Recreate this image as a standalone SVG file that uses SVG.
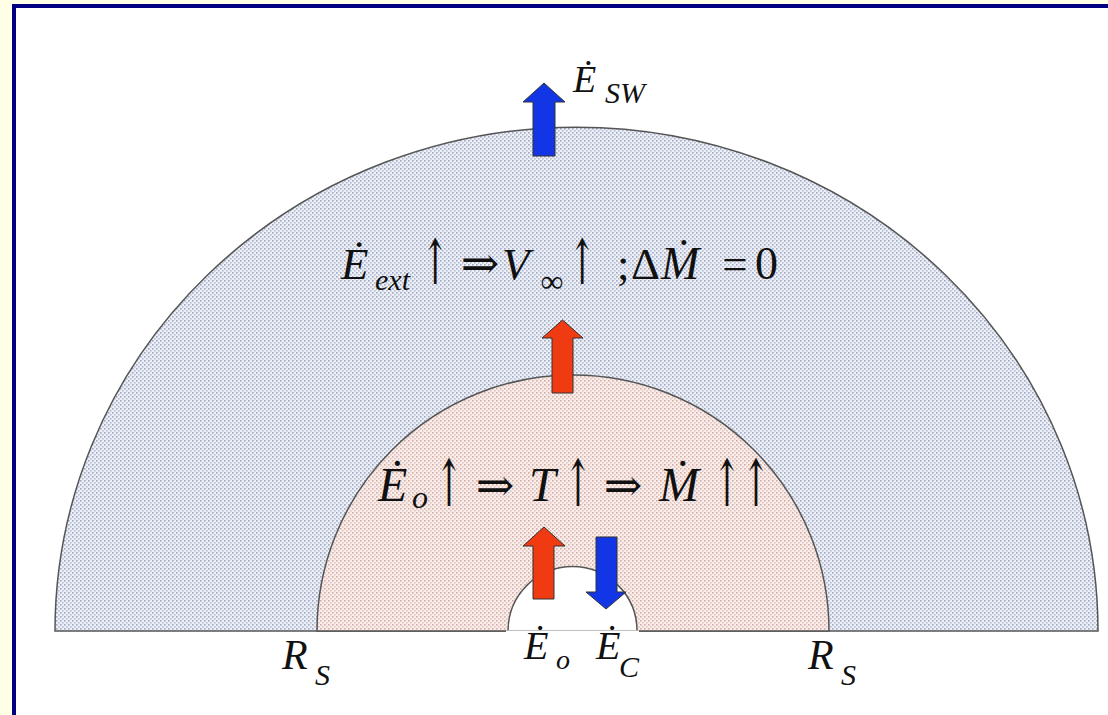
<svg xmlns="http://www.w3.org/2000/svg" width="1108" height="715" viewBox="0 0 1108 715">
  <defs>
    <pattern id="dotsBlue" width="4" height="4" patternUnits="userSpaceOnUse">
      <rect width="4" height="4" fill="#eef0f7"/>
      <rect x="0" y="0" width="1.6" height="1.6" fill="#9ea8c4"/>
      <rect x="2" y="2" width="1.6" height="1.6" fill="#b4bcd2"/>
    </pattern>
    <pattern id="dotsPink" width="4" height="4" patternUnits="userSpaceOnUse">
      <rect width="4" height="4" fill="#f9eeeb"/>
      <rect x="0" y="0" width="1.6" height="1.6" fill="#d4aca4"/>
      <rect x="2" y="2" width="1.6" height="1.6" fill="#e2c4be"/>
    </pattern>
    <style>
      .m { font-family: "Liberation Serif", "DejaVu Serif", serif; fill: #111; }
      .i { font-style: italic; }
      .ar { font-family: "DejaVu Serif", "Liberation Serif", serif; fill: #111; }
      .shape { stroke: #555; stroke-width: 1.5; }
      .arrow { stroke: #333; stroke-width: 1; }
      .red { fill: #f03a12; }
      .blue { fill: #1236e6; }
    </style>
  </defs>

  <!-- background and frame -->
  <rect width="1108" height="715" fill="#ffffff"/>
  <rect x="0" y="0" width="1108" height="4" fill="#ffffe8"/>
  <rect x="0" y="0" width="12" height="715" fill="#ffffe8"/>
  <rect x="12" y="4" width="1096" height="4" fill="#000080"/>
  <rect x="12" y="4" width="4" height="711" fill="#000080"/>

  <g id="outer-shell">
    <path class="shape" d="M55,631 A521.5,504 0 0 1 1098,631 Z" fill="url(#dotsBlue)"/>
  </g>
  <g id="inner-shell">
    <path class="shape" d="M317,631 A256,256 0 0 1 829,631 Z" fill="url(#dotsPink)"/>
  </g>
  <g id="core">
    <path class="shape" d="M508,631 A64.5,64.5 0 0 1 637,631 Z" fill="#ffffff"/>
    <line x1="506" y1="631.5" x2="639" y2="631.5" stroke="#ffffff" stroke-width="2"/>
  </g>

  <g id="connectors">
    <polygon class="arrow blue" points="533,156 533,102 523,102 544,83 565,102 555,102 555,156"/>
    <polygon class="arrow red" points="552,393 552,338 542,338 562.5,320 583,338 573,338 573,393"/>
    <polygon class="arrow red" points="533,599 533,546 523,546 544,527 565,546 554,546 554,599"/>
    <polygon class="arrow blue" points="596,537 617,537 617,592 626,592 606,609 586,592 596,592"/>
  </g>

  <g id="label-esw">
    <text class="m i" x="573" y="92" font-size="38">Ė</text>
    <text class="m i" x="605" y="103" font-size="30">SW</text>
  </g>

  <g id="label-middle">
    <text class="m i" x="341" y="279" font-size="45">Ė</text>
    <text class="m i" x="375" y="290" font-size="30">ext</text>
    <text class="ar" x="435" y="284" font-size="50" text-anchor="middle" transform="translate(435 284) scale(0.65 1.25) translate(-435 -284)">↑</text>
    <text class="ar" x="480" y="279" font-size="46" text-anchor="middle">⇒</text>
    <text class="m i" x="502" y="279" font-size="45">V</text>
    <text class="m" x="552" y="292" font-size="32" text-anchor="middle">∞</text>
    <text class="ar" x="582" y="284" font-size="50" text-anchor="middle" transform="translate(582 284) scale(0.65 1.25) translate(-582 -284)">↑</text>
    <text class="m" x="617" y="279" font-size="45">;</text>
    <text class="m" x="631" y="279" font-size="45">Δ</text>
    <text class="m i" x="661" y="279" font-size="46">Ṁ</text>
    <text class="m" x="735" y="279" font-size="45" text-anchor="middle">=</text>
    <text class="m" x="755" y="279" font-size="46">0</text>
  </g>

  <g id="label-lower">
    <text class="m i" x="378" y="501" font-size="48">Ė</text>
    <text class="m i" x="412" y="508" font-size="32">o</text>
    <text class="ar" x="449" y="506" font-size="52" text-anchor="middle" transform="translate(449 506) scale(0.65 1.25) translate(-449 -506)">↑</text>
    <text class="ar" x="495" y="501" font-size="46" text-anchor="middle">⇒</text>
    <text class="m i" x="529" y="501" font-size="48">T</text>
    <text class="ar" x="578" y="506" font-size="52" text-anchor="middle" transform="translate(578 506) scale(0.65 1.25) translate(-578 -506)">↑</text>
    <text class="ar" x="623" y="501" font-size="46" text-anchor="middle">⇒</text>
    <text class="m i" x="659" y="501" font-size="48">Ṁ</text>
    <text class="ar" x="727" y="506" font-size="52" text-anchor="middle" transform="translate(727 506) scale(0.65 1.25) translate(-727 -506)">↑</text>
    <text class="ar" x="756" y="506" font-size="52" text-anchor="middle" transform="translate(756 506) scale(0.65 1.25) translate(-756 -506)">↑</text>
  </g>

  <g id="label-eo">
    <text class="m i" x="524" y="659" font-size="40">Ė</text>
    <text class="m i" x="556" y="669" font-size="28">o</text>
  </g>
  <g id="label-ec">
    <text class="m i" x="596" y="659" font-size="40">Ė</text>
    <text class="m i" x="619" y="677" font-size="30">C</text>
  </g>
  <g id="label-rs-left">
    <text class="m i" x="282" y="669" font-size="42">R</text>
    <text class="m i" x="315" y="685" font-size="30">S</text>
  </g>
  <g id="label-rs-right">
    <text class="m i" x="808" y="669" font-size="42">R</text>
    <text class="m i" x="841" y="685" font-size="30">S</text>
  </g>
</svg>
